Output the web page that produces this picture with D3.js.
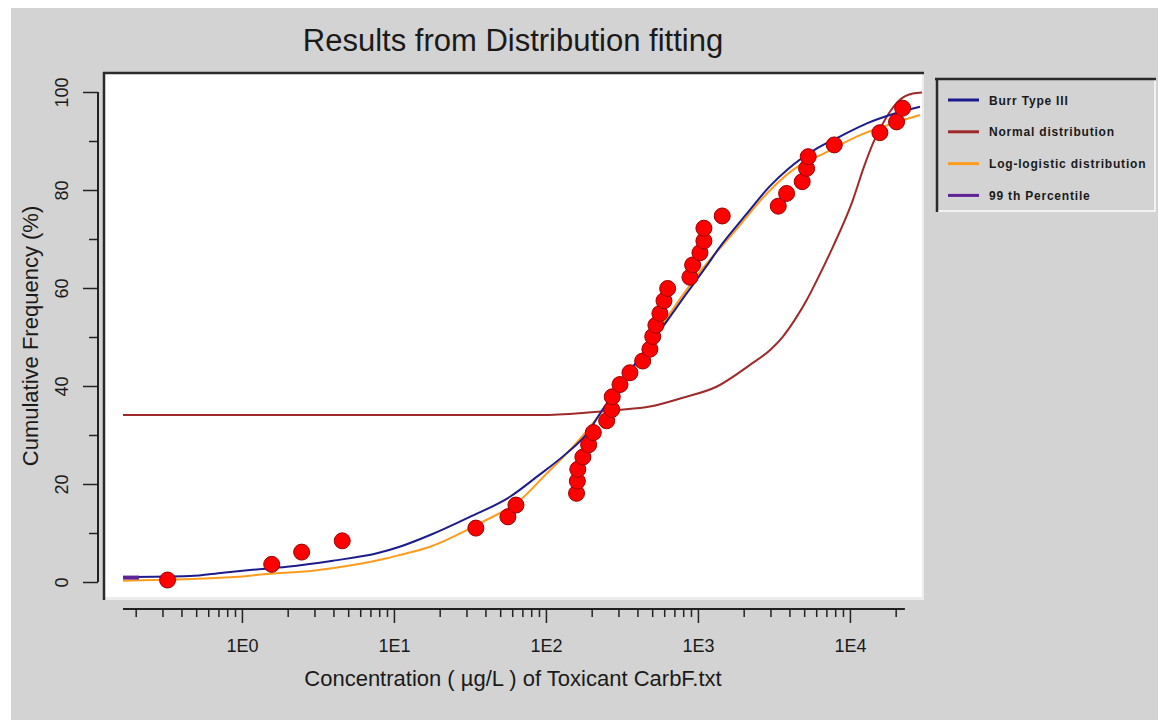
<!DOCTYPE html>
<html>
<head>
<meta charset="utf-8">
<script src="https://cdn.jsdelivr.net/npm/d3@7"></script>
<style>
  body { margin: 0; background: #fff; }
  svg { display: block; }
  text { font-family: "Liberation Sans", Arial, sans-serif; fill: #1a1a1a; }
  .legend text { font-family: "Liberation Sans", Arial, sans-serif; font-weight: bold; font-size: 12px; letter-spacing: 0.8px; }
</style>
</head>
<body>
<svg id="canvas" width="1158" height="720"></svg>
<script>
// observed data: concentration (ug/L), cumulative frequency (%)
let obsConc = [0.324, 1.57, 2.47, 4.57, 34.6, 56.2, 63.5, 159, 161, 162, 175, 191, 205, 251, 271, 273, 307, 357,
  433, 483, 504, 529, 562, 598, 632, 886, 923, 1031, 1095, 1095, 1445, 3377, 3831, 4852, 5187, 5317, 7888,
  15740, 20270, 22220]
let obsPct = [0.4, 3.6, 6.1, 8.4, 11.0, 13.3, 15.7, 18.1, 20.6, 23.0, 25.5, 28.0, 30.5, 32.9, 35.2, 37.8, 40.3, 42.7,
  45.1, 47.5, 50.1, 52.4, 54.8, 57.4, 59.9, 62.2, 64.7, 67.2, 69.6, 72.2, 74.7, 76.7, 79.3, 81.7, 84.4, 86.8, 89.2,
  91.7, 93.9, 96.7]

// fitted curves
let burrConc = [0.165, 0.455, 0.75, 1.13, 1.98, 3.97, 7.73, 10.9, 17.3, 31.6, 58, 87.3, 137, 186, 227, 373, 588,
  847, 1129, 1396, 2038, 2976, 3852, 6067, 8590, 12930, 18320, 28900]
let burrPct = [1.0, 1.2, 1.9, 2.45, 3.1, 4.35, 5.85, 7.2, 9.6, 13.3, 17.4, 21.5, 26.3, 30.3, 34.4, 43.9, 52.1,
  59.0, 64.3, 68.4, 74.7, 80.8, 84.1, 88.5, 90.9, 93.6, 95.3, 97.0]

let normConc = [0.165, 92.7, 189, 293, 483, 796, 1334, 2198, 3000, 3625, 4400, 5208, 6067, 7727, 10470, 12300, 14170,
  17500, 21320, 25960, 29780]
let normPct = [34.1, 34.1, 34.6, 35.1, 35.8, 37.6, 39.9, 44.3, 47.4, 50.1, 53.8, 57.6, 61.6, 68.4, 78.0, 84.5, 89.5,
  95.0, 98.4, 99.7, 99.9]

let logConc = [0.165, 0.834, 1.46, 2.93, 5.37, 9.0, 10.9, 17.3, 36.8, 67.5, 101.5, 151, 204, 264, 415, 728, 1031,
  1751, 2843, 4217, 7063, 11640, 19190, 28900]
let logPct = [0.27, 0.96, 1.63, 2.31, 3.47, 4.84, 5.5, 7.2, 12.0, 16.7, 22.2, 27.6, 32.4, 37.1, 45.3, 56.9, 63.3,
  71.6, 79.3, 84.1, 87.8, 91.2, 93.6, 95.3]

let p99Conc = [0.165, 0.21]
let p99Pct = [0.9, 0.9]

let xMajor = [1, 10, 100, 1000, 10000]
let xMajorLabels = ["1E0", "1E1", "1E2", "1E3", "1E4"]
let yMajor = [0, 20, 40, 60, 80, 100]
let yMinor = [10, 30, 50, 70, 90]

let legendNames = ["Burr Type III", "Normal distribution", "Log-logistic distribution", "99 th Percentile"]
let legendColors = ["#1c1c8e", "#9e2a2a", "#ff9c1e", "#5e2394"]

let svg = d3.select("#canvas")

// grey panel
svg.append("rect").attr("x", 11).attr("y", 8).attr("width", 1147).attr("height", 712).attr("fill", "#d3d3d3")

let x = d3.scaleLog().domain([0.165, 29800]).range([123, 922])
let y = d3.scaleLinear().domain([0, 100]).range([582, 92])

// plot frame (sunken look)
svg.append("rect").attr("x", 104).attr("y", 73).attr("width", 820).attr("height", 527).attr("fill", "#ececec")
svg.append("rect").attr("x", 105).attr("y", 74).attr("width", 817).attr("height", 523).attr("fill", "#fff")
svg.append("line").attr("x1", 103).attr("x2", 924).attr("y1", 73).attr("y2", 73).attr("stroke", "#2a2a2a").attr("stroke-width", 2.5)
svg.append("line").attr("x1", 104).attr("x2", 104).attr("y1", 72).attr("y2", 600).attr("stroke", "#2a2a2a").attr("stroke-width", 2.5)

// x axis
let xMinor = []
for (let d = 0.1; d <= 10000; d *= 10) {
  for (let m = 2; m <= 9; m++) {
    let v = d * m
    if (v >= 0.165 && v <= 23000) xMinor.push(v)
  }
}
let xAxisG = svg.append("g").attr("transform", "translate(0,609)")
xAxisG.append("line").attr("x1", x(0.165)).attr("x2", x(23000)).attr("stroke", "#222").attr("stroke-width", 2)
xAxisG.append("g")
  .call(d3.axisBottom(x).tickValues(xMinor).tickSize(8).tickFormat(""))
  .call(g => g.select(".domain").remove())
xAxisG.append("g")
  .call(d3.axisBottom(x).tickValues(xMajor).tickSize(14).tickFormat((d, i) => xMajorLabels[i]).tickPadding(16))
  .call(g => g.select(".domain").remove())
xAxisG.selectAll(".tick line").attr("stroke", "#222").attr("stroke-width", 1.5)
xAxisG.selectAll(".tick text").attr("font-size", 18).attr("fill", "#1a1a1a").attr("font-family", "Liberation Sans, Arial, sans-serif")

// y axis
let yAxisG = svg.append("g").attr("transform", "translate(98,0)")
yAxisG.append("line").attr("y1", y(0)).attr("y2", y(100)).attr("stroke", "#222").attr("stroke-width", 2)
yAxisG.append("g")
  .call(d3.axisLeft(y).tickValues(yMinor).tickSize(9).tickFormat(""))
  .call(g => g.select(".domain").remove())
let yMaj = yAxisG.append("g")
  .call(d3.axisLeft(y).tickValues(yMajor).tickSize(15).tickFormat(d3.format("d")))
  .call(g => g.select(".domain").remove())
yAxisG.selectAll(".tick line").attr("stroke", "#222").attr("stroke-width", 1.5)
yMaj.selectAll(".tick text")
  .attr("font-size", 18).attr("fill", "#1a1a1a").attr("font-family", "Liberation Sans, Arial, sans-serif")
  .attr("x", -36).attr("dy", 0).attr("text-anchor", "middle")
  .attr("transform", "rotate(-90,-36,0)")
  .attr("dominant-baseline", "central")

// titles
svg.append("text").attr("x", 513).attr("y", 51).attr("text-anchor", "middle").attr("font-size", 31)
  .text("Results from Distribution fitting")
svg.append("text").attr("x", 513).attr("y", 686).attr("text-anchor", "middle").attr("font-size", 22)
  .text("Concentration ( µg/L ) of Toxicant CarbF.txt")
svg.append("text").attr("transform", "translate(38,336) rotate(-90)").attr("text-anchor", "middle").attr("font-size", 22)
  .text("Cumulative Frequency (%)")

// curves
let line = d3.line().x(d => x(d[0])).y(d => y(d[1])).curve(d3.curveMonotoneX)
let plot = svg.append("g")
let series = [
  [normConc, normPct, legendColors[1], 2],
  [logConc, logPct, legendColors[2], 2],
  [burrConc, burrPct, legendColors[0], 2],
  [p99Conc, p99Pct, legendColors[3], 4]
]
series.forEach(s => {
  plot.append("path")
    .datum(s[0].map((c, i) => [c, s[1][i]]))
    .attr("d", line)
    .attr("fill", "none")
    .attr("stroke", s[2])
    .attr("stroke-width", s[3])
})

// observed points
plot.selectAll("circle")
  .data(obsConc.map((c, i) => [c, obsPct[i]]))
  .enter()
  .append("circle")
  .attr("cx", d => x(d[0]))
  .attr("cy", d => y(d[1]))
  .attr("r", 8)
  .attr("fill", "#ff0000")
  .attr("stroke", "#9a0000")
  .attr("stroke-width", 1)

// legend
let legend = svg.append("g").attr("class", "legend")
legend.append("rect").attr("x", 936).attr("y", 78).attr("width", 220).attr("height", 134).attr("fill", "#d3d3d3")
legend.append("line").attr("x1", 936).attr("x2", 1156).attr("y1", 211).attr("y2", 211).attr("stroke", "#f2f2f2").attr("stroke-width", 2)
legend.append("line").attr("x1", 1155).attr("x2", 1155).attr("y1", 78).attr("y2", 212).attr("stroke", "#f2f2f2").attr("stroke-width", 2)
legend.append("line").attr("x1", 935).attr("x2", 1156).attr("y1", 79).attr("y2", 79).attr("stroke", "#2a2a2a").attr("stroke-width", 2.5)
legend.append("line").attr("x1", 937).attr("x2", 937).attr("y1", 78).attr("y2", 212).attr("stroke", "#2a2a2a").attr("stroke-width", 2.5)

let item = legend.selectAll(".item")
  .data(legendNames)
  .enter()
  .append("g")
  .attr("transform", (d, i) => "translate(0," + (100 + i * 31.8) + ")")
item.append("line").attr("x1", 948).attr("x2", 979).attr("stroke", (d, i) => legendColors[i]).attr("stroke-width", 3)
item.append("text").attr("x", 989).attr("y", 4.5).text(d => d)
</script>
</body>
</html>
